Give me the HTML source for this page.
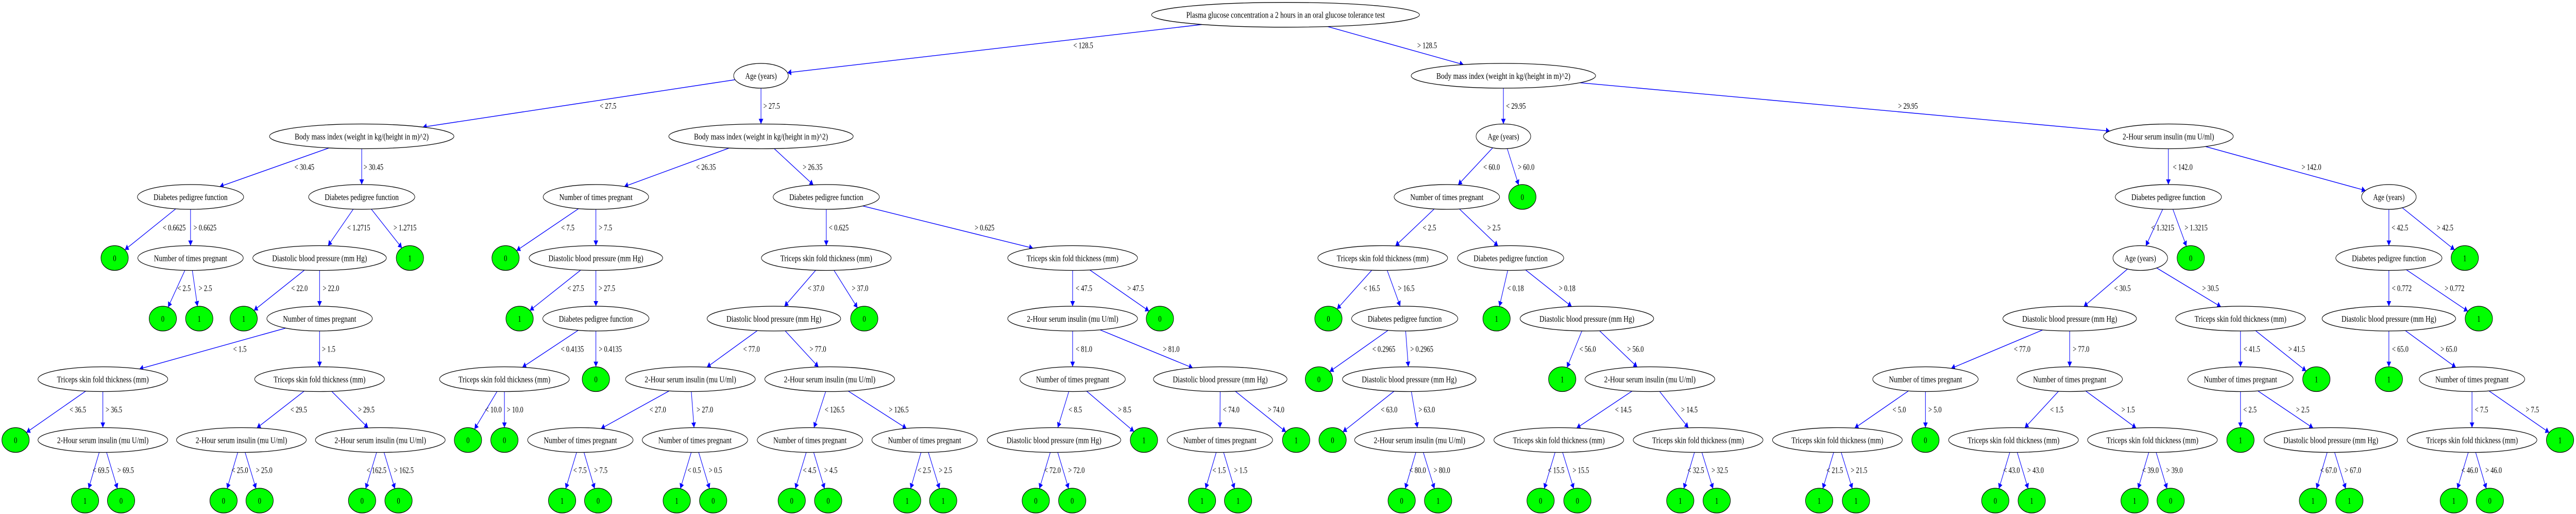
<!DOCTYPE html>
<html><head><meta charset="utf-8">
<style>
html,body{margin:0;padding:0;background:#fff;width:100%;height:100%;overflow:hidden;}
svg{display:block;position:absolute;left:0;top:0;width:100vw;height:100vh;}
text{font-family:"Liberation Serif","Times New Roman",serif;font-size:17px;fill:#000;}
</style></head>
<body>
<svg id="g" viewBox="0 0 6787 997" preserveAspectRatio="none" xmlns="http://www.w3.org/2000/svg">
<defs>
<marker id="ah" markerUnits="userSpaceOnUse" markerWidth="10" markerHeight="12" viewBox="0 0 10 12" refX="10" refY="6" orient="auto">
<path d="M0,0 L10,6 L0,12 z" fill="#0000ff"/>
</marker>
</defs>
<g id="E"></g><g id="N"></g><g id="L"></g>
</svg>
<script>
var LY=[28.7,147,264.5,382,500.5,618,735.5,853.5,971];
var LBY=[87.4,205,323.6,441,558.6,676.6,794,911.5];
var T={
R:["Plasma glucose concentration a 2 hours in an oral glucose tolerance test",353,523],
B:["Body mass index (weight in kg/(height in m)^2)",243,353],
D:["Diabetes pedigree function",140,195],
N:["Number of times pregnant",139,193],
P:["Diastolic blood pressure (mm Hg)",176,250],
T:["Triceps skin fold thickness (mm)",171,242],
H:["2-Hour serum insulin (mu U/ml)",171,241],
A:["Age (years)",72,83],
"0":["0",36,0],"1":["1",36,0]};
var nodes=[
["r","R",3387,0],
["a1","A",2005,1],["b1","B",3961,1],
["b2","B",953,2],["b3","B",2005,2],["a2","A",3961,2],["h2","H",5713,2],
["d3a","D",502,3],["d3b","D",953,3],["n3","N",1570,3],["d3c","D",2177,3],["n3b","N",3812,3],["z3","0",4011,3],["d3d","D",5713,3],["a3","A",6294,3],
["z4a","0",302,4],["n4a","N",502,4],["p4a","P",842,4],["o4a","1",1080,4],["z4b","0",1332,4],["p4b","P",1570,4],["t4a","T",2177,4],["t4b","T",2826,4],["t4c","T",3643,4],["d4","D",3980,4],["a4","A",5639,4],["z4c","0",5772,4],["d4b","D",6294,4],["o4b","1",6494,4],
["z5a","0",429,5],["o5a","1",525,5],["o5b","1",642,5],["n5a","N",842,5],["o5c","1",1369,5],["d5","D",1570,5],["p5a","P",2039,5],["z5b","0",2277,5],["h5","H",2826,5],["z5c","0",3056,5],["z5d","0",3500,5],["d5b","D",3701,5],["o5d","1",3943,5],["p5b","P",4181,5],["p5c","P",5453,5],["t5","T",5903,5],["p5d","P",6294,5],["o5e","1",6531,5],
["t6a","T",271,6],["t6b","T",842,6],["t6c","T",1329,6],["z6a","0",1570,6],["h6a","H",1819,6],["h6b","H",2186,6],["n6a","N",2826,6],["p6a","P",3215,6],["z6b","0",3475,6],["p6b","P",3713,6],["o6a","1",4116,6],["h6c","H",4347,6],["n6b","N",5073,6],["n6c","N",5453,6],["n6d","N",5903,6],["o6b","1",6103,6],["o6c","1",6294,6],["n6e","N",6513,6],
["z7a","0",41,7],["h7a","H",271,7],["h7b","H",636,7],["h7c","H",1002,7],["z7b","0",1233,7],["z7c","0",1329,7],["n7a","N",1529,7],["n7b","N",1831,7],["n7c","N",2134,7],["n7d","N",2436,7],["p7a","P",2777,7],["o7a","1",3014,7],["n7e","N",3214,7],["o7b","1",3415,7],["z7d","0",3511,7],["h7d","H",3740,7],["t7a","T",4107,7],["t7b","T",4474,7],["t7c","T",4841,7],["z7e","0",5073,7],["t7d","T",5305,7],["t7e","T",5671,7],["o7c","1",5903,7],["p7b","P",6141,7],["t7f","T",6513,7],["o7d","1",6745,7]
];
var edges=[
["r","a1","< 128.5",2854],["r","b1","> 128.5",3760],
["a1","b2","< 27.5",1602],["a1","b3","> 27.5",2033],
["b1","a2","< 29.95",3994],["b1","h2","> 29.95",5027],
["b2","d3a","< 30.45",802],["b2","d3b","> 30.45",984],
["b3","n3","< 26.35",1860],["b3","d3c","> 26.35",2141],
["a2","n3b","< 60.0",3930],["a2","z3","> 60.0",4021],
["h2","d3d","< 142.0",5751],["h2","a3","> 142.0",6090],
["d3a","z4a","< 0.6625",459],["d3a","n4a","> 0.6625",540],
["d3b","p4a","< 1.2715",945],["d3b","o4a","> 1.2715",1067],
["n3","z4b","< 7.5",1496],["n3","p4b","> 7.5",1595],
["d3c","t4a","< 0.625",2210],["d3c","t4b","> 0.625",2594],
["n3b","t4c","< 2.5",3766],["n3b","d4","> 2.5",3936],
["d3d","a4","< 1.3215",5698],["d3d","z4c","> 1.3215",5786],
["a3","d4b","< 42.5",6323],["a3","o4b","> 42.5",6442],
["n4a","z5a","< 2.5",485],["n4a","o5a","> 2.5",541],
["p4a","o5b","< 22.0",789],["p4a","n5a","> 22.0",872],
["p4b","o5c","< 27.5",1517],["p4b","d5","> 27.5",1599],
["t4a","p5a","< 37.0",2150],["t4a","z5b","> 37.0",2266],
["t4b","h5","< 47.5",2856],["t4b","z5c","> 47.5",2992],
["t4c","z5d","< 16.5",3614],["t4c","d5b","> 16.5",3705],
["d4","o5d","< 0.18",3993],["d4","p5b","> 0.18",4129],
["a4","p5c","< 30.5",5592],["a4","t5","> 30.5",5824],
["d4b","p5d","< 0.772",6328],["d4b","o5e","> 0.772",6467],
["n5a","t6a","< 1.5",632],["n5a","t6b","> 1.5",866],
["d5","t6c","< 0.4135",1508],["d5","z6a","> 0.4135",1608],
["p5a","h6a","< 77.0",1980],["p5a","h6b","> 77.0",2155],
["h5","n6a","< 81.0",2856],["h5","p6a","> 81.0",3086],
["d5b","z6b","< 0.2965",3646],["d5b","p6b","> 0.2965",3746],
["p5b","o6a","< 56.0",4183],["p5b","h6c","> 56.0",4309],
["p5c","n6b","< 77.0",5328],["p5c","n6c","> 77.0",5483],
["t5","n6d","< 41.5",5933],["t5","o6b","> 41.5",6051],
["p5d","o6c","< 65.0",6324],["p5d","n6e","> 65.0",6452],
["t6a","z7a","< 36.5",205],["t6a","h7a","> 36.5",300],
["t6b","h7b","< 29.5",787],["t6b","h7c","> 29.5",965],
["t6c","z7b","< 10.0",1300],["t6c","z7c","> 10.0",1357],
["h6a","n7a","< 27.0",1733],["h6a","n7b","> 27.0",1857],
["h6b","n7c","< 126.5",2199],["h6b","n7d","> 126.5",2368],
["n6a","p7a","< 8.5",2833],["n6a","o7a","> 8.5",2963],
["p6a","n7e","< 74.0",3244],["p6a","o7b","> 74.0",3362],
["p6b","z7d","< 63.0",3660],["p6b","h7d","> 63.0",3759],
["h6c","t7a","< 14.5",4277],["h6c","t7b","> 14.5",4451],
["n6b","t7c","< 5.0",5004],["n6b","z7e","> 5.0",5098],
["n6c","t7d","< 1.5",5419],["n6c","t7e","> 1.5",5607],
["n6d","o7c","< 2.5",5928],["n6d","p7b","> 2.5",6067],
["n6e","t7f","< 7.5",6538],["n6e","o7d","> 7.5",6672]
];
var leaf8=[
["h7a","1",224,"< 69.5",266,"0",319,"> 69.5",331],
["h7b","0",589,"< 25.0",632,"0",684,"> 25.0",696],
["h7c","0",954,"< 162.5",992,"0",1050,"> 162.5",1064],
["n7a","1",1481,"< 7.5",1528,"0",1576,"> 7.5",1583],
["n7b","1",1783,"< 0.5",1829,"0",1879,"> 0.5",1885],
["n7c","0",2086,"< 4.5",2133,"0",2182,"> 4.5",2189],
["n7d","1",2390,"< 2.5",2435,"1",2485,"> 2.5",2491],
["p7a","0",2729,"< 72.0",2773,"0",2825,"> 72.0",2836],
["n7e","1",3167,"< 1.5",3212,"1",3262,"> 1.5",3269],
["h7d","0",3693,"< 80.0",3735,"1",3789,"> 80.0",3799],
["t7a","0",4059,"< 15.5",4100,"0",4156,"> 15.5",4165],
["t7b","1",4427,"< 32.5",4468,"1",4523,"> 32.5",4531],
["t7c","1",4793,"< 21.5",4834,"1",4890,"> 21.5",4898],
["t7d","0",5257,"< 43.0",5300,"1",5353,"> 43.0",5363],
["t7e","1",5624,"< 39.0",5666,"0",5719,"> 39.0",5729],
["p7b","1",6094,"< 67.0",6135,"1",6190,"> 67.0",6199],
["t7f","1",6465,"< 46.0",6507,"0",6560,"> 46.0",6570]
];
var k=0;
leaf8.forEach(function(r){
  k++;
  nodes.push(["l8a"+k,r[1],r[2],8]);nodes.push(["l8b"+k,r[5],r[6],8]);
  edges.push([r[0],"l8a"+k,r[3],r[4]]);edges.push([r[0],"l8b"+k,r[7],r[8]]);
});
var NS="http://www.w3.org/2000/svg";
var M={};
function el(tag,at,txt){var e=document.createElementNS(NS,tag);for(var a in at)e.setAttribute(a,at[a]);if(txt!=null)e.textContent=txt;return e;}
var gN=document.getElementById("N"),gE=document.getElementById("E"),gL=document.getElementById("L");
nodes.forEach(function(n){
  var t=T[n[1]],x=n[2],y=LY[n[3]];
  M[n[0]]={x:x,y:y,rx:t[1],ry:24};
  var leaf=(n[1]=="0"||n[1]=="1");
  gN.appendChild(el("ellipse",{cx:x,cy:y,rx:t[1],ry:24,fill:leaf?"#00ff00":"#ffffff",stroke:"#000","stroke-width":1.3}));
  var at={x:x,y:y+6,"text-anchor":"middle"};
  if(!leaf){at.textLength=t[2];at.lengthAdjust="spacingAndGlyphs";}
  gN.appendChild(el("text",at,t[0]));
});
edges.forEach(function(e){
  var p=M[e[0]],c=M[e[1]];
  var dx=c.x-p.x,dy=c.y-p.y;
  var t1=1/Math.sqrt(Math.pow(dx/p.rx,2)+Math.pow(dy/p.ry,2));
  var t2=1/Math.sqrt(Math.pow(dx/c.rx,2)+Math.pow(dy/c.ry,2));
  var x1=p.x+dx*t1,y1=p.y+dy*t1,x2=c.x-dx*t2,y2=c.y-dy*t2;
  gE.appendChild(el("line",{x1:x1,y1:y1,x2:x2,y2:y2,stroke:"#0000ff","stroke-width":1.4,"marker-end":"url(#ah)"}));
  var lvl=0;for(var i=0;i<LY.length;i++)if(Math.abs(LY[i]-p.y)<1)lvl=i;
  gL.appendChild(el("text",{x:e[3],y:LBY[lvl]+6,"text-anchor":"middle"},e[2]));
});
</script>
</body></html>
